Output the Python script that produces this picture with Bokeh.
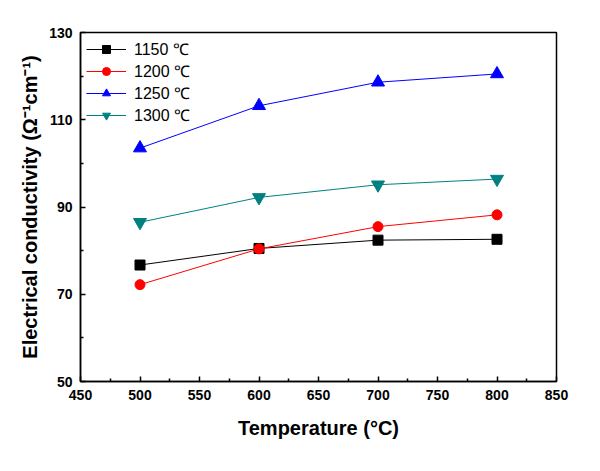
from bokeh.plotting import figure
from bokeh.embed import file_html
from bokeh.resources import INLINE
from bokeh.models import Range1d, FixedTicker, Legend, LegendItem

temps = [500, 600, 700, 800]
s1150 = [76.7, 80.5, 82.4, 82.6]
s1200 = [72.2, 80.4, 85.5, 88.2]
s1250 = [103.5, 113.2, 118.6, 120.5]
s1300 = [86.5, 92.2, 95.1, 96.4]
labels = ["1150 ℃", "1200 ℃", "1250 ℃", "1300 ℃"]

p = figure(width=584, height=455, output_backend="svg", toolbar_location=None,
           x_range=Range1d(450, 850), y_range=Range1d(50, 130),
           min_border_left=80, min_border_top=32, min_border_right=28, min_border_bottom=74)
p.grid.visible = False
p.outline_line_color = "black"
p.outline_line_width = 1.5
p.background_fill_color = "white"
p.border_fill_color = "white"

FONT = "Liberation Sans"
for ax in (p.xaxis[0], p.yaxis[0]):
    ax.axis_line_width = 1.5
    ax.major_tick_in = 5
    ax.major_tick_out = 0
    ax.minor_tick_in = 3
    ax.minor_tick_out = 0
    ax.major_tick_line_width = 1.5
    ax.minor_tick_line_width = 1.5
    ax.major_label_text_font = FONT
    ax.major_label_text_font_style = "bold"
    ax.major_label_text_font_size = "14px"
    ax.major_label_text_color = "black"
    ax.axis_label_text_font = FONT
    ax.axis_label_text_font_style = "bold"
    ax.axis_label_text_font_size = "20px"
    ax.axis_label_text_color = "black"

p.xaxis.ticker = FixedTicker(ticks=[450, 500, 550, 600, 650, 700, 750, 800, 850],
                             minor_ticks=[475, 525, 575, 625, 675, 725, 775, 825])
p.yaxis.ticker = FixedTicker(ticks=[50, 70, 90, 110, 130],
                             minor_ticks=[60, 80, 100, 120])
p.xaxis.axis_label = "Temperature (°C)"
p.yaxis.axis_label = "Electrical conductivity (Ω⁻¹cm⁻¹)"
p.xaxis.major_label_standoff = 8
p.yaxis.major_label_standoff = 8
p.xaxis.axis_label_standoff = 14
p.yaxis.axis_label_standoff = 5

items = []
series = [
    (s1150, "black", "square", 10),
    (s1200, "red", "circle", 10),
    (s1250, "blue", "triangle", 13),
    (s1300, "#008080", "inverted_triangle", 13),
]
for (vals, col, mk, sz), lab in zip(series, labels):
    l = p.line(temps, vals, line_color=col, line_width=1)
    m = p.scatter(temps, vals, marker=mk, size=sz, fill_color=col, line_color=col)
    items.append(LegendItem(label=lab, renderers=[l, m]))

leg = Legend(items=items)
leg.label_text_font = FONT
leg.label_text_font_size = "16px"
leg.label_text_color = "black"
leg.glyph_width = 40
leg.glyph_height = 20
leg.spacing = 0
leg.label_standoff = 8
leg.margin = 6
leg.border_line_color = None
leg.background_fill_alpha = 0
leg.location = "top_left"
p.add_layout(leg)

open("out.html", "w").write(file_html(p, INLINE))
